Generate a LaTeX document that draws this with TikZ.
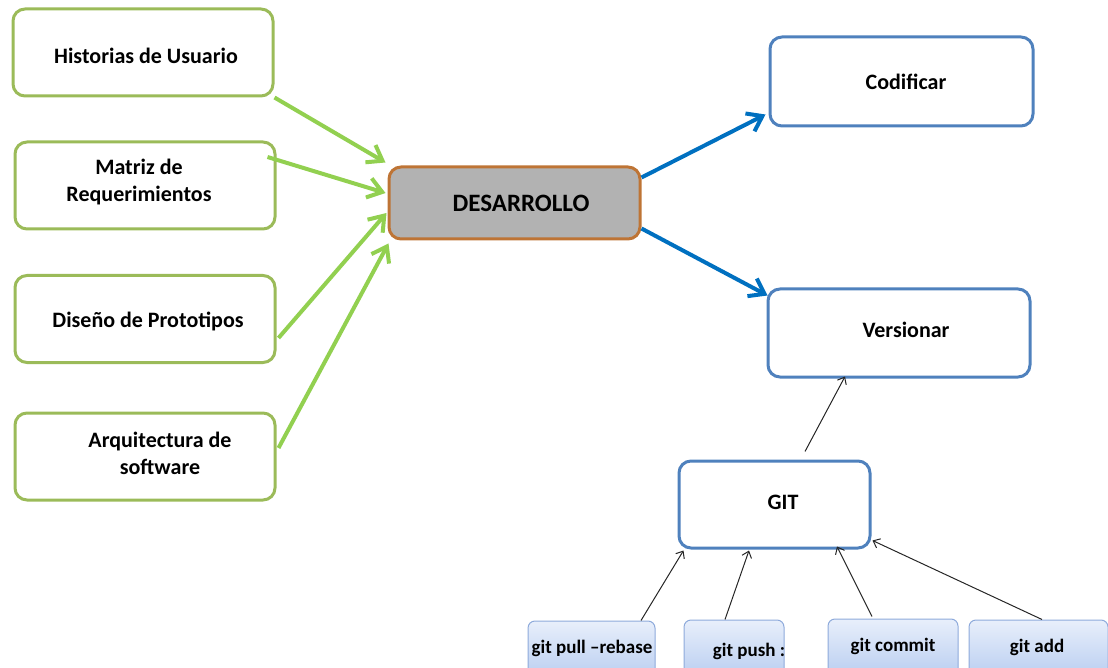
\documentclass[tikz,border=0pt]{standalone}
\usepackage{fontspec}
\setmainfont{Carlito}
\usetikzlibrary{arrows.meta,calc}

\definecolor{inputedge}{HTML}{9BBB59}
\definecolor{inputarrow}{HTML}{92D050}
\definecolor{taskedge}{HTML}{4F81BD}
\definecolor{taskarrow}{HTML}{0070C0}
\definecolor{coreedge}{HTML}{BE7435}
\definecolor{corefill}{HTML}{B2B2B2}
\definecolor{cmdedge}{HTML}{8EAADB}
\definecolor{cmdtop}{HTML}{E8EFFB}
\definecolor{cmdbottom}{HTML}{B7CCF0}

\tikzset{
  boxbase/.style={line width=3pt, rounded corners=12pt, fill=white, inner sep=0pt},
  inputbox/.style={boxbase, draw=inputedge, minimum width=260pt, minimum height=87pt},
  taskbox/.style={boxbase, draw=taskedge},
  corebox/.style={draw=coreedge, fill=corefill, line width=3pt, rounded corners=12pt,
    minimum width=251pt, minimum height=72pt, inner sep=0pt},
  cmdbox/.style={draw=cmdedge, line width=1pt, rounded corners=7pt,
    top color=cmdtop, bottom color=cmdbottom, minimum height=60pt, inner sep=0pt},
  boxtext/.style={align=center, inner sep=0pt, font=\bfseries\fontsize{22}{27}\selectfont},
  coretext/.style={inner sep=0pt, font=\bfseries\fontsize{25}{30}\selectfont},
  cmdtext/.style={inner sep=0pt, font=\bfseries\fontsize{19}{23}\selectfont},
  feed/.style={draw=inputarrow, line width=4pt, -{Straight Barb[length=14pt,width=20pt]}},
  produce/.style={draw=taskarrow, line width=4pt, -{Straight Barb[length=14pt,width=20pt]}},
  link/.style={draw=black!85, line width=1pt, -{Straight Barb[length=6pt,width=10pt]}},
}

\begin{document}
\begin{tikzpicture}[x=1pt,y=-1pt]
\useasboundingbox (0,0) rectangle (1108,668);
\clip (0,0) rectangle (1108,668);

% inputs on the left
\node[inputbox] (hist) at (143,52.5) {};
\node[boxtext] (histT) at (146,56) {Historias de Usuario};
\node[inputbox] (mat) at (145,185.5) {};
\node[boxtext] (matT) at (139,182) {Matriz de\\Requerimientos};
\node[inputbox] (dis) at (145,319) {};
\node[boxtext] (disT) at (148,321) {Diseño de Prototipos};
\node[inputbox] (arq) at (145,456.5) {};
\node[boxtext] (arqT) at (160,453) {Arquitectura de\\software};

% central stage
\node[corebox] (des) at (514.5,203) {};
\node[coretext] (desT) at (521,203) {DESARROLLO};

% outputs on the right
\node[taskbox, minimum width=263pt, minimum height=89pt] (cod) at (901.5,81.5) {};
\node[boxtext] (codT) at (906,82) {Codificar};
\node[taskbox, minimum width=262pt, minimum height=88pt] (ver) at (899,333) {};
\node[boxtext] (verT) at (906,330) {Versionar};
\node[taskbox, minimum width=191pt, minimum height=87pt] (git) at (774.5,504.5) {};
\node[boxtext] (gitT) at (783,502) {GIT};

% git commands along the bottom
\node[cmdbox, minimum width=127pt] (pull) at (591.5,651) {};
\node[cmdtext] (pullT) at (592,648) {git pull –rebase};
\node[cmdbox, minimum width=100pt] (push) at (734,650) {};
\node[cmdtext] (pushT) at (749,651) {git push :};
\node[cmdbox, minimum width=130pt] (commit) at (893,649) {};
\node[cmdtext] (commitT) at (893,646) {git commit};
\node[cmdbox, minimum width=139pt] (add) at (1038.5,650) {};
\node[cmdtext] (addT) at (1037,647) {git add};

% inputs feed the central stage
\draw[feed] (hist.south east) -- ($(des.north west)+(-2,-3)$);
\draw[feed] ($(mat.east)+(-9,-28.5)$) -- ($(des.west)+(-2,-10)$);
\draw[feed] ($(dis.east)+(2,19)$) -- ($(des.west)+(-1,10)$);
\draw[feed] ($(arq.east)+(2,-8.5)$) -- ($(des.south west)+(1,3)$);

% central stage produces the tasks
\draw[produce] ($(des.north east)+(0,12)$) -- ($(cod.south west)+(-3,-13)$);
\draw[produce] ($(des.south east)+(0,-12)$) -- ($(ver.north west)+(1,8)$);

% GIT and its commands
\draw[link] ($(git.north)+(30.5,-8)$) -- ($(ver.south)+(-54,-2)$);
\draw[link] ($(pull.north)+(49.5,0)$) -- ($(git.south west)+(6,1)$);
\draw[link] ($(push.north)+(-9,0)$) -- ($(git.south)+(-25.5,1)$);
\draw[link] ($(commit.north)+(-21,-2)$) -- ($(git.south)+(62.5,-3)$);
\draw[link] ($(add.north)+(3.5,0)$) -- ($(git.south east)+(1,-9)$);
\end{tikzpicture}
\end{document}
